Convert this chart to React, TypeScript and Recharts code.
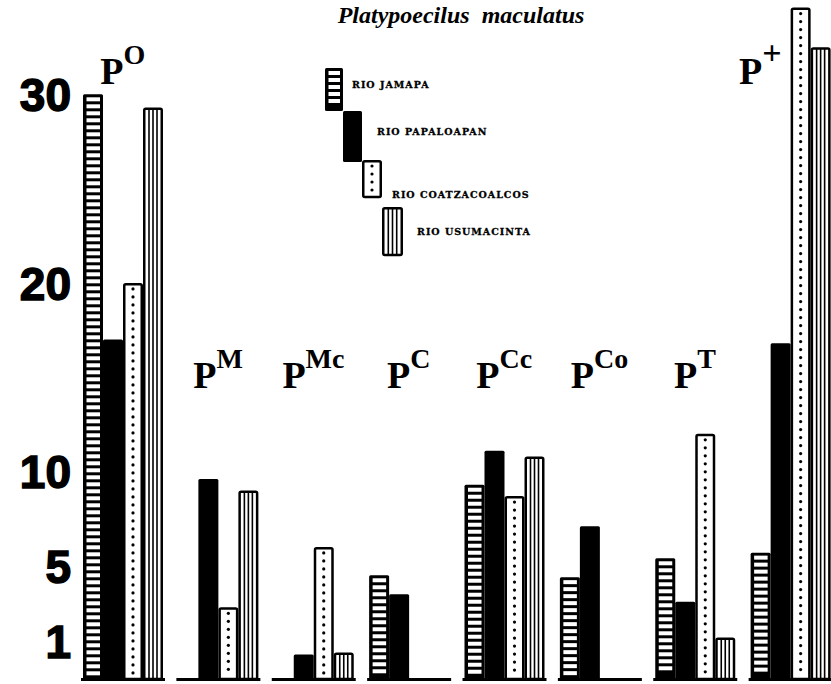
import React from 'react';
import { BarChart, Bar, XAxis, YAxis, Legend } from 'recharts';

const categories = ['O', 'M', 'Mc', 'C', 'Cc', 'Co', 'T', '+'];
const jamapa = [31.0, 0, 0, 5.5, 10.3, 5.4, 6.4, 6.7];
const papaloapan = [18.0, 10.6, 1.3, 4.5, 12.1, 8.1, 4.1, 17.8];
const coatzacoalcos = [21.0, 3.8, 7.0, 0, 9.7, 0, 13.0, 35.6];
const usumacinta = [30.3, 10.0, 1.4, 0, 11.8, 0, 2.2, 33.5];
const yTicks = [1, 5, 10, 20, 30];
const seriesNames = ['RIO JAMAPA', 'RIO PAPALOAPAN', 'RIO COATZACOALCOS', 'RIO USUMACINTA'];
const title = 'Platypoecilus  maculatus';

const data = categories.map((c, i) => ({
  cat: c,
  jamapa: jamapa[i],
  papaloapan: papaloapan[i],
  coatzacoalcos: coatzacoalcos[i],
  usumacinta: usumacinta[i],
}));

type SP = { x: number; y: number; width: number; height: number; noBase?: boolean };

const baseLine = (x: number, w: number, base: number) => (
  <line x1={x - 2} x2={x + w + 2} y1={base + 0.5} y2={base + 0.5} stroke="#000" strokeWidth={3} />
);

const HStripe = (p: SP) => {
  const { x, y, width: w, height: h, noBase } = p;
  const base = y + h;
  const cells: React.ReactNode[] = [];
  if (h > 6) {
    for (let yy = y + 3; yy + 4 <= base - 2.5; yy += 7) {
      cells.push(<rect key={yy} x={x + 3.5} y={yy} width={w - 6.5} height={4} fill="#fff" />);
    }
  }
  return (
    <g>
      {h > 0 && <rect x={x} y={y} width={w} height={h} fill="#000" rx={1.5} />}
      {cells}
      {!noBase && baseLine(x, w, base)}
    </g>
  );
};

const Solid = (p: SP) => {
  const { x, y, width: w, height: h, noBase } = p;
  const base = y + h;
  return (
    <g>
      {h > 0 && <rect x={x} y={y} width={w} height={h} fill="#000" rx={1.5} />}
      {!noBase && baseLine(x, w, base)}
    </g>
  );
};

const Dotted = (p: SP) => {
  const { x, y, width: w, height: h, noBase } = p;
  const base = y + h;
  const dots: React.ReactNode[] = [];
  if (h > 6) {
    for (let cy = y + 6; cy < base - 3; cy += 8) {
      dots.push(<circle key={cy} cx={x + w / 2} cy={cy} r={1.6} fill="#000" />);
    }
  }
  return (
    <g>
      {h > 0 && (
        <rect x={x + 1.25} y={y + 1.25} width={w - 2.5} height={Math.max(h - 1.25, 0)} fill="#fff" stroke="#000" strokeWidth={2.5} rx={1.5} />
      )}
      {dots}
      {!noBase && baseLine(x, w, base)}
    </g>
  );
};

const VStripe = (p: SP) => {
  const { x, y, width: w, height: h, noBase } = p;
  const base = y + h;
  const lines: React.ReactNode[] = [];
  if (h > 3) {
    [0.3, 0.5, 0.7].forEach((f) => {
      lines.push(<line key={f} x1={x + w * f} x2={x + w * f} y1={y + 1} y2={base} stroke="#000" strokeWidth={1.6} />);
    });
  }
  return (
    <g>
      {h > 0 && (
        <rect x={x + 1.25} y={y + 1.25} width={w - 2.5} height={Math.max(h - 1.25, 0)} fill="#fff" stroke="#000" strokeWidth={2.5} rx={1.5} />
      )}
      {lines}
      {!noBase && baseLine(x, w, base)}
    </g>
  );
};

const shapes = [HStripe, Solid, Dotted, VStripe];

const legendBoxes = [
  { x: 5, y: 8, w: 18, h: 43, tx: 32, ty: 28 },
  { x: 23, y: 51, w: 19, h: 51, tx: 57, ty: 75 },
  { x: 42, y: 100, w: 20, h: 37, tx: 72, ty: 138 },
  { x: 62, y: 147, w: 21, h: 48, tx: 97, ty: 175 },
];

const LegendContent = () => {
  return (
    <svg width={240} height={200} style={{ display: 'block' }}>
      {seriesNames.map((name, i) => {
        const b = legendBoxes[i];
        const S = shapes[i];
        return (
          <g key={name}>
            {S({ x: b.x, y: b.y, width: b.w, height: b.h, noBase: true })}
            <text
              x={b.tx}
              y={b.ty}
              fontFamily="DejaVu Serif"
              fontWeight="bold"
              fontSize={9.5}
              letterSpacing={1}
              fill="#000"
              stroke="#000"
              strokeWidth={0.3}
            >
              {name}
            </text>
          </g>
        );
      })}
    </svg>
  );
};

const YTick = (props: any) => {
  const { y, payload } = props;
  return (
    <text
      x={71}
      y={y - 18}
      dominantBaseline="central"
      textAnchor="end"
      fontFamily="Liberation Sans"
      fontWeight="bold"
      fontSize={46}
      fill="#000"
      stroke="#000"
      strokeWidth={1.5}
    >
      {payload.value}
    </text>
  );
};

const XTick = (props: any) => {
  const { x, payload } = props;
  const v = payload.value as string;
  const top = v === 'O' || v === '+';
  const by = top ? 84 : 388;
  const dx = v === '+' ? -30 : 0;
  return (
    <text
      x={x + dx}
      y={by}
      textAnchor="middle"
      fontFamily="Liberation Serif"
      fontWeight="bold"
      fill="#000"
    >
      <tspan fontSize={38}>P</tspan>
      <tspan fontSize={v === '+' ? 34 : 28} dy={-20}>{v}</tspan>
    </text>
  );
};

export default function App() {
  return (
    <div style={{ position: 'absolute', left: 0, top: 0, width: 831, height: 684, overflow: 'hidden', background: '#fff' }}>
      <BarChart
        width={840}
        height={684}
        data={data}
        margin={{ top: 0, right: 2, left: 0, bottom: 0 }}
        barSize={20}
        barGap={0}
      >
        <XAxis dataKey="cat" height={5} axisLine={false} tickLine={false} interval={0} tick={<XTick />} />
        <YAxis
          domain={[0, 36]}
          ticks={yTicks}
          width={75}
          axisLine={false}
          tickLine={false}
          tick={<YTick />}
          interval={0}
        />
        <Legend
          layout="vertical"
          verticalAlign="middle"
          align="center"
          content={<LegendContent />}
          wrapperStyle={{ left: 320, top: 60, width: 240, height: 200 }}
        />
        <Bar dataKey="jamapa" name={seriesNames[0]} fill="#ffffff" shape={(p: any) => HStripe(p)} isAnimationActive={false} />
        <Bar dataKey="papaloapan" name={seriesNames[1]} fill="#000000" shape={(p: any) => Solid(p)} isAnimationActive={false} />
        <Bar dataKey="coatzacoalcos" name={seriesNames[2]} fill="#ffffff" shape={(p: any) => Dotted(p)} isAnimationActive={false} />
        <Bar dataKey="usumacinta" name={seriesNames[3]} fill="#ffffff" shape={(p: any) => VStripe(p)} isAnimationActive={false} />
        <text
          x={461}
          y={23}
          textAnchor="middle"
          fontFamily="Liberation Serif"
          fontStyle="italic"
          fontWeight="bold"
          fontSize={24}
          fill="#000"
          style={{ whiteSpace: 'pre' }}
        >
          {title}
        </text>
      </BarChart>
    </div>
  );
}
